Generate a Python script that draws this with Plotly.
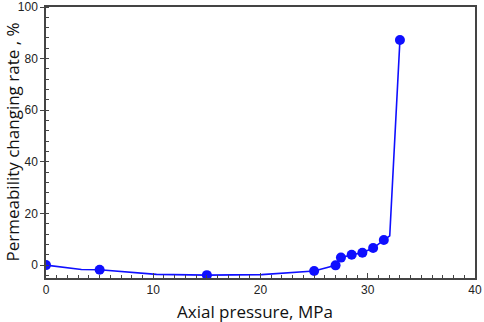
import plotly.graph_objects as go

# Measured points
pressure = [0, 5, 15, 25, 27, 27.5, 28.5, 29.5, 30.5, 31.5, 33]
rate = [0, -1.8, -3.9, -2.3, -0.1, 2.9, 4.0, 4.8, 6.6, 9.7, 87.2]

# Connecting curve as drawn
curve_x = [0, 3.3, 5, 10.3, 15, 20.1, 25, 27, 27.5, 28.5, 29.5, 30.5, 31.5, 32.05, 33]
curve_y = [0, -1.7, -1.8, -3.6, -3.9, -3.7, -2.3, -0.1, 2.9, 4.0, 4.8, 6.6, 9.7, 11.3, 87.2]

x_ticks = [0, 10, 20, 30, 40]
y_ticks = [0, 20, 40, 60, 80, 100]

blue = "#0f0fff"
axis_col = "#444444"

fig = go.Figure()
fig.add_trace(go.Scatter(x=curve_x, y=curve_y, mode="lines",
                         line=dict(color=blue, width=1.6), hoverinfo="skip",
                         showlegend=False))
fig.add_trace(go.Scatter(x=pressure, y=rate, mode="markers",
                         marker=dict(color=blue, size=10), showlegend=False,
                         cliponaxis=True))

tickfont = dict(family="Liberation Sans, Arial", size=12, color="#222222")
titlefont = dict(family="Open Sans", size=17, color="#111111")

W, H = 484, 322
L, R, T, B = 46, 9, 7, 44

fig.update_layout(
    width=W, height=H,
    margin=dict(l=L, r=R, t=T, b=B),
    paper_bgcolor="white", plot_bgcolor="white",
    xaxis=dict(range=[0, 40], tickvals=x_ticks, ticks="inside", ticklen=5,
               tickcolor=axis_col, showline=True, linecolor=axis_col, linewidth=1.5,
               mirror=True, showgrid=False, zeroline=False, tickfont=tickfont,
               automargin=False,
               minor=dict(dtick=1, ticks="inside", ticklen=3, tickcolor=axis_col, showgrid=False)),
    yaxis=dict(range=[-5, 100], tickvals=y_ticks, ticks="outside", ticklen=4,
               tickcolor=axis_col, showline=True, linecolor=axis_col, linewidth=1.5,
               mirror=True, showgrid=False, zeroline=False, tickfont=tickfont,
               automargin=False,
               minor=dict(dtick=4, tick0=0, ticks="inside", ticklen=3, tickcolor=axis_col, showgrid=False)),
    annotations=[
        dict(text="Axial pressure, MPa", xref="paper", yref="paper",
             x=(255 - L) / (W - L - R), y=-(311 - (H - B)) / (H - T - B),
             xanchor="center", yanchor="middle", showarrow=False, font=titlefont),
        dict(text="Permeability changing rate , %", xref="paper", yref="paper",
             x=-(L - 12) / (W - L - R), y=0.5, textangle=-90,
             xanchor="center", yanchor="middle", showarrow=False, font=titlefont),
    ],
)

fig.write_html("out.html", config={"displayModeBar": False},
               post_script="document.body.style.margin='0';document.body.style.overflow='hidden';")
